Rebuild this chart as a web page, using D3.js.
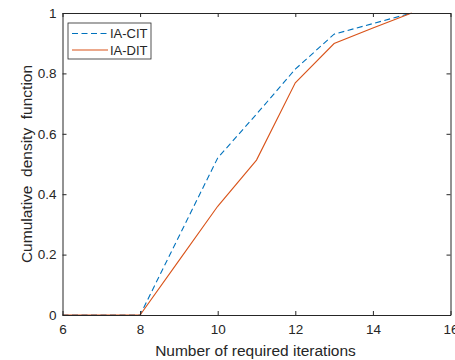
<!DOCTYPE html>
<html>
<head>
<meta charset="utf-8">
<script src="https://cdn.jsdelivr.net/npm/d3@7"></script>
<style>
  body { margin: 0; background: #fff; }
  svg { display: block; font-family: "Liberation Sans", Arial, sans-serif; }
</style>
</head>
<body>
<svg id="chart" width="455" height="360"></svg>
<script>
// iterations on the x axis
const iterations = [6, 7, 8, 9, 10, 11, 12, 13, 14, 15];
const citValues = [0, 0, 0, 0.26, 0.52, 0.665, 0.814, 0.93, 0.965, 1];
const ditValues = [0, 0, 0, 0.18, 0.36, 0.513, 0.769, 0.899, 0.95, 1];
const xTicks = [6, 8, 10, 12, 14, 16];
const yTicks = [0, 0.2, 0.4, 0.6, 0.8, 1];

const series = [
  { name: "IA-CIT", values: citValues, color: "#0072BD", dash: "6,3.5" },
  { name: "IA-DIT", values: ditValues, color: "#D95319", dash: null }
];

const margin = { top: 13, right: 4.5, bottom: 45, left: 62.5 };
const width = 455 - margin.left - margin.right;
const height = 360 - margin.top - margin.bottom;

const svg = d3.select("#chart");
const g = svg.append("g")
  .attr("transform", `translate(${margin.left},${margin.top})`);

const x = d3.scaleLinear().domain([6, 16]).range([0, width]);
const y = d3.scaleLinear().domain([0, 1]).range([height, 0]);

const axisColor = "#262626";
const fmt = d => d3.format("~g")(d);

// lines
const line = d3.line()
  .x((d, i) => x(iterations[i]))
  .y(d => y(d));

series.forEach(s => {
  g.append("path")
    .datum(s.values)
    .attr("fill", "none")
    .attr("stroke", s.color)
    .attr("stroke-width", 1.1)
    .attr("stroke-dasharray", s.dash)
    .attr("d", line);
});

// axes (bottom/left labelled, top/right just ticks)
const styleAxis = (sel) => {
  sel.selectAll(".domain").attr("stroke", axisColor).attr("stroke-width", 1);
  sel.selectAll(".tick line").attr("stroke", axisColor);
  sel.selectAll("text").attr("fill", axisColor).style("font-size", "13.5px");
};

g.append("g")
  .attr("transform", `translate(0,${height})`)
  .call(d3.axisBottom(x).tickValues(xTicks).tickFormat(fmt).tickSizeInner(-4).tickSizeOuter(0).tickPadding(9.5))
  .call(styleAxis);

g.append("g")
  .call(d3.axisLeft(y).tickValues(yTicks).tickFormat(fmt).tickSizeInner(-4).tickSizeOuter(0).tickPadding(6))
  .call(styleAxis);

g.append("g")
  .call(d3.axisTop(x).tickValues(xTicks).tickFormat("").tickSizeInner(-4).tickSizeOuter(0))
  .call(styleAxis);

g.append("g")
  .attr("transform", `translate(${width},0)`)
  .call(d3.axisRight(y).tickValues(yTicks).tickFormat("").tickSizeInner(-4).tickSizeOuter(0))
  .call(styleAxis);

// axis labels
svg.append("text")
  .attr("x", margin.left + width / 2 - 1)
  .attr("y", 356)
  .attr("text-anchor", "middle")
  .attr("fill", axisColor)
  .style("font-size", "15.5px")
  .text("Number of required iterations");

svg.append("text")
  .attr("transform", `translate(32,${margin.top + height / 2}) rotate(-90)`)
  .attr("text-anchor", "middle")
  .attr("fill", axisColor)
  .style("font-size", "15.5px")
  .style("white-space", "pre")
  .text("Cumulative  density  function");

// legend
const legend = svg.append("g").attr("transform", "translate(68,23)");
legend.append("rect")
  .attr("width", 83)
  .attr("height", 36)
  .attr("fill", "#fff")
  .attr("stroke", axisColor)
  .attr("stroke-width", 0.8);

series.forEach((s, i) => {
  const ly = 10.5 + i * 16.5;
  legend.append("line")
    .attr("x1", 4).attr("x2", 40)
    .attr("y1", ly).attr("y2", ly)
    .attr("stroke", s.color)
    .attr("stroke-width", 1.1)
    .attr("stroke-dasharray", s.dash);
  legend.append("text")
    .attr("x", 42)
    .attr("y", ly + 4.5)
    .attr("fill", axisColor)
    .style("font-size", "13px")
    .text(s.name);
});
</script>
</body>
</html>
